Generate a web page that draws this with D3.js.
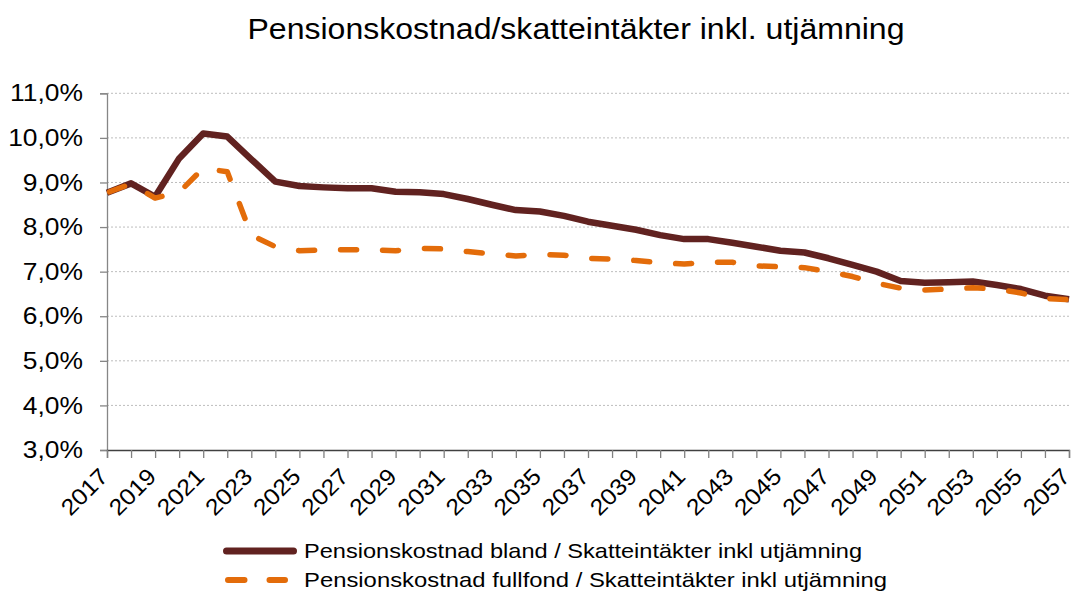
<!DOCTYPE html>
<html>
<head>
<meta charset="utf-8">
<script src="https://cdn.jsdelivr.net/npm/d3@7"></script>
<style>
  body { margin: 0; background: #fff; }
  svg { display: block; font-family: "Liberation Sans", Arial, sans-serif; }
</style>
</head>
<body>
<svg width="1073" height="592"></svg>
<script>
// data (percent)
const years = [2017, 2018, 2019, 2020, 2021, 2022, 2023, 2024, 2025, 2026,
  2027, 2028, 2029, 2030, 2031, 2032, 2033, 2034, 2035, 2036,
  2037, 2038, 2039, 2040, 2041, 2042, 2043, 2044, 2045, 2046,
  2047, 2048, 2049, 2050, 2051, 2052, 2053, 2054, 2055, 2056, 2057];
const bland = [8.77, 8.98, 8.68, 9.54, 10.10, 10.03, 9.52, 9.02, 8.92, 8.89,
  8.87, 8.87, 8.79, 8.78, 8.74, 8.63, 8.50, 8.38, 8.35, 8.25,
  8.12, 8.03, 7.94, 7.82, 7.73, 7.73, 7.65, 7.56, 7.47, 7.43,
  7.30, 7.15, 7.00, 6.79, 6.75, 6.76, 6.78, 6.70, 6.61, 6.46, 6.38];
const fullfond = [8.77, 8.97, 8.65, 8.78, 9.32, 9.24, 7.82, 7.56, 7.47, 7.49,
  7.49, 7.49, 7.47, 7.52, 7.51, 7.45, 7.40, 7.35, 7.39, 7.37,
  7.30, 7.28, 7.25, 7.20, 7.17, 7.21, 7.21, 7.13, 7.11, 7.09,
  7.00, 6.89, 6.74, 6.63, 6.59, 6.61, 6.64, 6.61, 6.52, 6.40, 6.37];
const yTicks = [3, 4, 5, 6, 7, 8, 9, 10, 11];
const title = "Pensionskostnad/skatteintäkter inkl. utjämning";
const seriesNames = [
  "Pensionskostnad bland / Skatteintäkter inkl utjämning",
  "Pensionskostnad fullfond / Skatteintäkter inkl utjämning"
];

const brown = "#612220", orange = "#e36c0a";
const svg = d3.select("svg");

const x = d3.scalePoint().domain(years).range([107, 1069]);
const y = d3.scaleLinear().domain([3, 11]).range([450, 93.3]);

// the reference text is a little wider than the font, stretch it a bit
function widen(k) {
  return function() {
    this.setAttribute("textLength", this.getComputedTextLength() * k);
    this.setAttribute("lengthAdjust", "spacingAndGlyphs");
  };
}

// title
svg.append("text")
  .attr("x", 576).attr("y", 38.5)
  .attr("text-anchor", "middle")
  .attr("font-size", 29)
  .attr("textLength", 657).attr("lengthAdjust", "spacingAndGlyphs")
  .text(title);

// gridlines
svg.append("g").selectAll("line")
  .data(yTicks.filter(d => d > 3))
  .enter().append("line")
  .attr("x1", 107).attr("x2", 1069)
  .attr("y1", d => y(d)).attr("y2", d => y(d))
  .attr("stroke", "#bdbdbd").attr("stroke-width", 1)
  .attr("stroke-dasharray", "2,2");

// y axis
const yAxis = svg.append("g")
  .attr("transform", "translate(107,0)")
  .call(d3.axisLeft(y).tickValues(yTicks).tickSize(7).tickPadding(17)
    .tickFormat(d => d3.format(".1f")(d).replace(".", ",") + "%"));
yAxis.select(".domain").attr("stroke", "#868686").attr("stroke-width", 1.3);
yAxis.selectAll(".tick line").attr("stroke", "#868686").attr("stroke-width", 1.3);
yAxis.selectAll("text").attr("font-size", 24).attr("fill", "#000")
  .attr("font-family", "Liberation Sans, Arial, sans-serif")
  .each(widen(1.1));

// x axis
const xAxis = svg.append("g")
  .attr("transform", "translate(0,450)")
  .call(d3.axisBottom(x).tickSizeOuter(0).tickSize(8)
    .tickFormat(d => (d - 2017) % 2 === 0 ? d : ""));
xAxis.select(".domain").attr("stroke", "#404040").attr("stroke-width", 1.3);
xAxis.selectAll(".tick line").attr("stroke", "#808080").attr("stroke-width", 1.3);
xAxis.selectAll("text")
  .attr("font-size", 23).attr("fill", "#000")
  .attr("font-family", "Liberation Sans, Arial, sans-serif")
  .attr("text-anchor", "end")
  .attr("y", 0).attr("dy", 0)
  .attr("transform", "translate(2,28) rotate(-45)")
  .filter(d => (d - 2017) % 2 === 0)
  .each(widen(1.08));

// lines
const line = d3.line().x((d, i) => x(years[i])).y(d => y(d));

svg.append("path")
  .datum(bland)
  .attr("d", line)
  .attr("fill", "none")
  .attr("stroke", brown).attr("stroke-width", 6.5)
  .attr("stroke-linejoin", "round");

svg.append("path")
  .datum(fullfond)
  .attr("d", line)
  .attr("fill", "none")
  .attr("stroke", orange).attr("stroke-width", 5.5)
  .attr("stroke-linejoin", "round").attr("stroke-linecap", "round")
  .attr("stroke-dasharray", "16,26")
  .attr("stroke-dashoffset", -2.7);

// legend
const lg = svg.append("g");
lg.append("line")
  .attr("x1", 226.5).attr("x2", 293.5).attr("y1", 551).attr("y2", 551)
  .attr("stroke", brown).attr("stroke-width", 7).attr("stroke-linecap", "round");
lg.append("line")
  .attr("x1", 228).attr("x2", 285).attr("y1", 580).attr("y2", 580)
  .attr("stroke", orange).attr("stroke-width", 6).attr("stroke-linecap", "round")
  .attr("stroke-dasharray", "16.5,25");
lg.append("text")
  .attr("x", 304).attr("y", 558)
  .attr("font-size", 21)
  .attr("textLength", 558).attr("lengthAdjust", "spacingAndGlyphs")
  .text(seriesNames[0]);
lg.append("text")
  .attr("x", 304).attr("y", 587)
  .attr("font-size", 21)
  .attr("textLength", 583).attr("lengthAdjust", "spacingAndGlyphs")
  .text(seriesNames[1]);
</script>
</body>
</html>
